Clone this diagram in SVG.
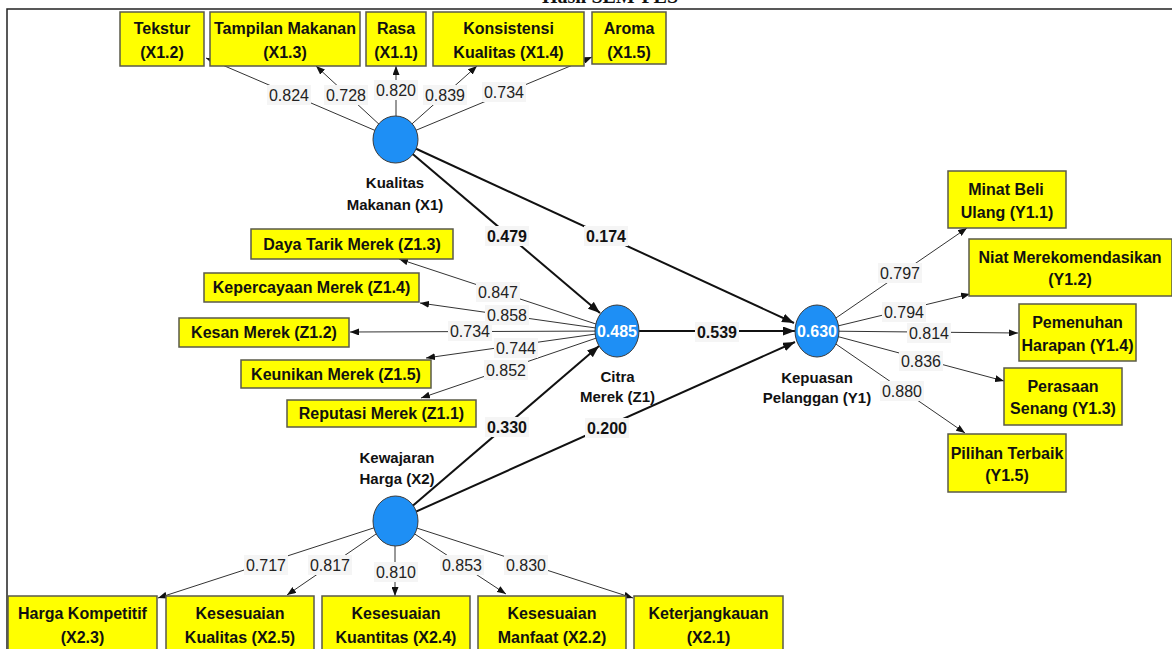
<svg xmlns="http://www.w3.org/2000/svg" width="1172" height="649" viewBox="0 0 1172 649">
<style>
.box{fill:#ffff00;stroke:#5a5a4a;stroke-width:1.5}
.bt{font-family:"Liberation Sans",Arial,sans-serif;font-weight:bold;font-size:16px;fill:#111;text-anchor:middle}
.lv{fill:#1e8ff5;stroke:#3a3a3a;stroke-width:1}
.lvt{font-family:"Liberation Sans",Arial,sans-serif;font-weight:bold;font-size:15px;fill:#111;text-anchor:middle}
.r2{font-family:"Liberation Sans",Arial,sans-serif;font-weight:bold;font-size:16px;fill:#fff;text-anchor:middle}
.ld{stroke:#333;stroke-width:1;fill:none;marker-end:url(#a)}
.pt{stroke:#111;stroke-width:2;fill:none;marker-end:url(#b)}
.lb{fill:#f5f5f5}
.lt{font-family:"Liberation Sans",Arial,sans-serif;font-size:16px;fill:#222;text-anchor:middle}
.pl{font-family:"Liberation Sans",Arial,sans-serif;font-size:16px;font-weight:bold;fill:#111;text-anchor:middle}
</style>
<defs>
<marker id="a" markerUnits="userSpaceOnUse" markerWidth="9" markerHeight="7" refX="9" refY="3.5" orient="auto"><path d="M0,0 L9,3.5 L0,7 z" fill="#111"/></marker>
<marker id="b" markerUnits="userSpaceOnUse" markerWidth="12" markerHeight="9" refX="12" refY="4.5" orient="auto"><path d="M0,0 L12,4.5 L0,9 z" fill="#111"/></marker>
</defs>
<rect width="1172" height="649" fill="#fff"/>
<text x="610" y="3" font-family="'Liberation Serif','Times New Roman',serif" font-weight="bold" font-size="20" text-anchor="middle" fill="#111">Hasil SEM-PLS</text>
<rect x="7" y="9" width="1170" height="650" fill="none" stroke="#222" stroke-width="1.5"/>

<g id="connectors">
<line class="ld" x1="395" y1="139" x2="206" y2="58"/>
<line class="ld" x1="395" y1="139" x2="316" y2="66"/>
<line class="ld" x1="396" y1="139" x2="396" y2="66"/>
<line class="ld" x1="395" y1="139" x2="477" y2="66"/>
<line class="ld" x1="395" y1="139" x2="592" y2="57"/>
<line class="ld" x1="617" y1="331" x2="399" y2="259"/>
<line class="ld" x1="617" y1="331" x2="420" y2="303"/>
<line class="ld" x1="617" y1="331" x2="350" y2="332"/>
<line class="ld" x1="617" y1="331" x2="426" y2="358"/>
<line class="ld" x1="617" y1="331" x2="421" y2="398"/>
<line class="ld" x1="817" y1="331" x2="967" y2="228"/>
<line class="ld" x1="817" y1="331" x2="970" y2="294"/>
<line class="ld" x1="817" y1="331" x2="1018" y2="333"/>
<line class="ld" x1="817" y1="331" x2="1004" y2="381"/>
<line class="ld" x1="817" y1="331" x2="965" y2="433"/>
<line class="ld" x1="395" y1="521" x2="158" y2="598"/>
<line class="ld" x1="395" y1="521" x2="287" y2="595"/>
<line class="ld" x1="395" y1="521" x2="395" y2="596"/>
<line class="ld" x1="395" y1="521" x2="506" y2="594"/>
<line class="ld" x1="395" y1="521" x2="633" y2="598"/>
<line class="pt" x1="395" y1="139" x2="600" y2="313"/>
<line class="pt" x1="395" y1="139" x2="794" y2="323"/>
<line class="pt" x1="617" y1="331" x2="795" y2="331"/>
<line class="pt" x1="395" y1="521" x2="599" y2="346"/>
<line class="pt" x1="395" y1="521" x2="795" y2="342"/>
<g>
<rect class="lb" x="267" y="85" width="44" height="20"/><text class="lt" x="289" y="101">0.824</text>
<rect class="lb" x="324" y="85" width="44" height="20"/><text class="lt" x="346" y="101">0.728</text>
<rect class="lb" x="374" y="80" width="44" height="20"/><text class="lt" x="396" y="96">0.820</text>
<rect class="lb" x="423" y="85" width="44" height="20"/><text class="lt" x="445" y="101">0.839</text>
<rect class="lb" x="482" y="82" width="44" height="20"/><text class="lt" x="504" y="98">0.734</text>
<rect class="lb" x="476" y="282" width="44" height="20"/><text class="lt" x="498" y="298">0.847</text>
<rect class="lb" x="485" y="305" width="44" height="20"/><text class="lt" x="507" y="321">0.858</text>
<rect class="lb" x="448" y="321" width="44" height="20"/><text class="lt" x="470" y="337">0.734</text>
<rect class="lb" x="494" y="338" width="44" height="20"/><text class="lt" x="516" y="354">0.744</text>
<rect class="lb" x="484" y="360" width="44" height="20"/><text class="lt" x="506" y="376">0.852</text>
<rect class="lb" x="878" y="263" width="44" height="20"/><text class="lt" x="900" y="279">0.797</text>
<rect class="lb" x="882" y="302" width="44" height="20"/><text class="lt" x="904" y="318">0.794</text>
<rect class="lb" x="907" y="323" width="44" height="20"/><text class="lt" x="929" y="339">0.814</text>
<rect class="lb" x="899" y="351" width="44" height="20"/><text class="lt" x="921" y="367">0.836</text>
<rect class="lb" x="880" y="381" width="44" height="20"/><text class="lt" x="902" y="397">0.880</text>
<rect class="lb" x="244" y="555" width="44" height="20"/><text class="lt" x="266" y="571">0.717</text>
<rect class="lb" x="308" y="555" width="44" height="20"/><text class="lt" x="330" y="571">0.817</text>
<rect class="lb" x="374" y="562" width="44" height="20"/><text class="lt" x="396" y="578">0.810</text>
<rect class="lb" x="440" y="555" width="44" height="20"/><text class="lt" x="462" y="571">0.853</text>
<rect class="lb" x="504" y="555" width="44" height="20"/><text class="lt" x="526" y="571">0.830</text>
<rect class="lb" x="485" y="226" width="44" height="20"/><text class="pl" x="507" y="242">0.479</text>
<rect class="lb" x="584" y="226" width="44" height="20"/><text class="pl" x="606" y="242">0.174</text>
<rect class="lb" x="695" y="322" width="44" height="20"/><text class="pl" x="717" y="338">0.539</text>
<rect class="lb" x="485" y="417" width="44" height="20"/><text class="pl" x="507" y="433">0.330</text>
<rect class="lb" x="585" y="418" width="44" height="20"/><text class="pl" x="607" y="434">0.200</text>
</g>
</g>

<g id="X1"><ellipse class="lv" cx="395.5" cy="139.5" rx="22.5" ry="23.5"/>
<text class="lvt" x="395" y="188">Kualitas</text><text class="lvt" x="395" y="210">Makanan (X1)</text></g>
<g id="Z1"><ellipse class="lv" cx="617" cy="331" rx="22" ry="26"/><text class="r2" x="617" y="337">0.485</text>
<text class="lvt" x="617.5" y="382">Citra</text><text class="lvt" x="617.5" y="402">Merek (Z1)</text></g>
<g id="Y1"><ellipse class="lv" cx="817" cy="331" rx="22" ry="26"/><text class="r2" x="817" y="337">0.630</text>
<text class="lvt" x="817" y="383">Kepuasan</text><text class="lvt" x="817" y="403">Pelanggan (Y1)</text></g>
<g id="X2"><ellipse class="lv" cx="395.5" cy="521" rx="22.5" ry="25"/>
<text class="lvt" x="397" y="463">Kewajaran</text><text class="lvt" x="397" y="484">Harga (X2)</text></g>

<g id="X1.2"><rect class="box" x="120" y="12" width="84" height="54"/><text class="bt" x="162" y="34">Tekstur</text><text class="bt" x="162" y="58">(X1.2)</text></g>
<g id="X1.3"><rect class="box" x="210" y="12" width="150" height="54"/><text class="bt" x="285" y="34">Tampilan Makanan</text><text class="bt" x="285" y="58">(X1.3)</text></g>
<g id="X1.1"><rect class="box" x="366" y="12" width="60" height="54"/><text class="bt" x="396" y="34">Rasa</text><text class="bt" x="396" y="58">(X1.1)</text></g>
<g id="X1.4"><rect class="box" x="433" y="12" width="151" height="54"/><text class="bt" x="508.5" y="34">Konsistensi</text><text class="bt" x="508.5" y="58">Kualitas (X1.4)</text></g>
<g id="X1.5"><rect class="box" x="592" y="12" width="74" height="52"/><text class="bt" x="629" y="34">Aroma</text><text class="bt" x="629" y="58">(X1.5)</text></g>

<g id="Z1.3"><rect class="box" x="251" y="229" width="202" height="30"/><text class="bt" x="352" y="250">Daya Tarik Merek (Z1.3)</text></g>
<g id="Z1.4"><rect class="box" x="204" y="273" width="215" height="29"/><text class="bt" x="311.5" y="293">Kepercayaan Merek (Z1.4)</text></g>
<g id="Z1.2"><rect class="box" x="179" y="318" width="170" height="29"/><text class="bt" x="264" y="338">Kesan Merek (Z1.2)</text></g>
<g id="Z1.5"><rect class="box" x="241" y="360" width="190" height="28"/><text class="bt" x="336" y="380">Keunikan Merek (Z1.5)</text></g>
<g id="Z1.1"><rect class="box" x="287" y="400" width="189" height="27"/><text class="bt" x="381.5" y="419">Reputasi Merek (Z1.1)</text></g>

<g id="Y1.1"><rect class="box" x="948" y="171" width="118" height="57"/><text class="bt" x="1006" y="195">Minat Beli</text><text class="bt" x="1007" y="218">Ulang (Y1.1)</text></g>
<g id="Y1.2"><rect class="box" x="969" y="239" width="203" height="57"/><text class="bt" x="1070" y="263">Niat Merekomendasikan</text><text class="bt" x="1070" y="285">(Y1.2)</text></g>
<g id="Y1.4"><rect class="box" x="1019" y="304" width="117" height="57"/><text class="bt" x="1077.5" y="328">Pemenuhan</text><text class="bt" x="1077.5" y="351">Harapan (Y1.4)</text></g>
<g id="Y1.3"><rect class="box" x="1004" y="368" width="118" height="57"/><text class="bt" x="1063" y="392">Perasaan</text><text class="bt" x="1063" y="414">Senang (Y1.3)</text></g>
<g id="Y1.5"><rect class="box" x="948" y="434" width="118" height="58"/><text class="bt" x="1007" y="459">Pilihan Terbaik</text><text class="bt" x="1007" y="481">(Y1.5)</text></g>

<g id="X2.3"><rect class="box" x="8" y="596" width="149" height="60"/><text class="bt" x="82.5" y="619">Harga Kompetitif</text><text class="bt" x="82.5" y="643">(X2.3)</text></g>
<g id="X2.5"><rect class="box" x="166" y="596" width="148" height="60"/><text class="bt" x="240" y="619">Kesesuaian</text><text class="bt" x="240" y="643">Kualitas (X2.5)</text></g>
<g id="X2.4"><rect class="box" x="322" y="596" width="148" height="60"/><text class="bt" x="396" y="619">Kesesuaian</text><text class="bt" x="396" y="643">Kuantitas (X2.4)</text></g>
<g id="X2.2"><rect class="box" x="478" y="596" width="148" height="60"/><text class="bt" x="552" y="619">Kesesuaian</text><text class="bt" x="552" y="643">Manfaat (X2.2)</text></g>
<g id="X2.1"><rect class="box" x="634" y="596" width="149" height="60"/><text class="bt" x="708.5" y="619">Keterjangkauan</text><text class="bt" x="708.5" y="643">(X2.1)</text></g>
</svg>
